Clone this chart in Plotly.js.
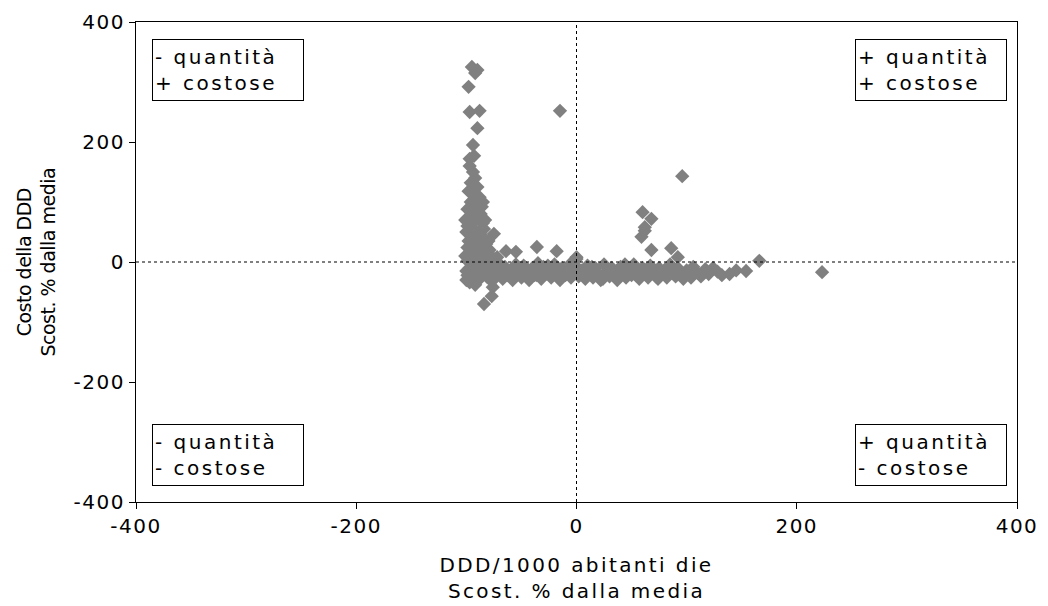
<!DOCTYPE html>
<html>
<head>
<meta charset="utf-8">
<script src="https://cdn.plot.ly/plotly-3.0.1.min.js"></script>
<style>
  html, body { margin: 0; padding: 0; background: #fff; }
  #chart { width: 1048px; height: 606px; }
  .xtick text, .ytick text { letter-spacing: 1.5px; }
  .xtitle { letter-spacing: 2.4px; }
  .annotation-text { letter-spacing: 2.5px; }
  .ytitle-ann .annotation-text { letter-spacing: -0.5px; }
</style>
</head>
<body>
<div id="chart"></div>
<script>
// Scostamento % dalla media: DDD/1000 abitanti die (x) vs costo della DDD (y)
const outlierX = [-95, -90, -92, -98, -97, -88, -90, -94, -97, -93, -75, -15, -36, -64, -55, -18, -77, -76, -84, 96, 60, 68, 62, 59, 62, 68, 86, 92, 166, 223, 0];
const outlierY = [325, 320, 315, 292, 250, 252, 223, 195, 172, 177, 47, 252, 25, 18, 17, 18, -57, -42, -70, 143, 83, 72, 58, 42, 52, 20, 23, 8, 2, -17, 8];

const columnX = [-97, -94, -92, -96, -90, -98, -93, -88, -96, -91, -86, -99, -94, -89, -97, -92, -85, -99, -94, -88, -96, -91, -84, -98, -93, -87, -99, -95, -89, -83, -97, -92, -86, -99, -94, -88, -97, -91, -85, -99, -94, -89, -97, -92, -86, -82, -81, -90, -95, -84, -87, -100, -82, -85, -78, -75, -80, -72, -100, -100, -96, -101, -83, -79, -88, -93, -101];
const columnY = [160, 150, 140, 132, 125, 118, 112, 108, 100, 95, 92, 88, 82, 78, 72, 68, 65, 60, 55, 52, 46, 42, 40, 35, 30, 28, 24, 20, 16, 14, 10, 6, 4, 2, -2, -5, -10, -14, -18, -22, -26, -30, -34, -38, -8, -12, -25, 102, 45, 55, 80, 50, 30, 100, 10, 5, 35, 8, -15, -30, -20, 70, 70, 20, 30, 88, 10];

const bandX = [-80, -80, -78, -75, -73, -70, -70, -67, -65, -63, -60, -58, -55, -55, -52, -50, -48, -45, -43, -40, -38, -35, -35, -32, -30, -28, -25, -23, -20, -18, -15, -13, -10, -8, -5, -5, -3, 0, 0, 2, 5, 8, 10, 12, 15, 17, 20, 22, 25, 27, 30, 32, 35, 37, 40, 42, 45, 47, 50, 52, 55, 57, 60, 62, 65, 67, 70, 72, 75, 77, 80, 82, 85, 87, 90, 92, 95, 97, 100, 103, 106, 110, 113, 117, 120, 124, 128, 132, 139, 145, 154, -68, -57, -46, -36, -26, -16, -6, 4, 14, 24, 34, 44, 54, 64, 74, 84, 94, 104];
const bandY = [-5, -20, -30, -10, -25, -3, -18, -28, -8, -22, -14, -30, -4, -20, -12, -26, -6, -18, -30, -10, -22, -2, -16, -28, -8, -20, -12, -26, -4, -18, -30, -10, -22, -14, -2, -26, -18, -8, 5, -24, -14, -28, -6, -18, -26, -10, -20, -30, -4, -16, -24, -10, -20, -30, -8, -18, -26, -12, -22, -4, -16, -28, -10, -20, -26, -6, -16, -24, -10, -20, -14, -26, -4, -18, -24, -10, -20, -28, -14, -22, -8, -18, -24, -12, -20, -10, -16, -22, -20, -14, -15, -12, -24, -10, -22, -6, -24, -12, -20, -8, -28, -14, -4, -22, -14, -28, -8, -16, -26];

const xTickVals = [-400, -200, 0, 200, 400];
const yTickVals = [-400, -200, 0, 200, 400];

const quadrantLabels = ['- quantità<br>+ costose', '+ quantità<br>+ costose', '- quantità<br>- costose', '+ quantità<br>- costose'];
const yTitleText = 'Costo della DDD<br>Scost. % dalla media';
const xTitleText = 'DDD/1000 abitanti die<br>Scost. % dalla media';

const xs = outlierX.concat(columnX, bandX);
const ys = outlierY.concat(columnY, bandY);

const font = 'DejaVu Sans, Verdana, sans-serif';

const trace = {
  type: 'scatter',
  mode: 'markers',
  x: xs,
  y: ys,
  marker: { symbol: 'diamond', size: 11, color: '#808080', line: { width: 0 } },
  hoverinfo: 'x+y'
};

const annBase = {
  xref: 'paper', yref: 'paper', showarrow: false, align: 'left',
  font: { family: font, size: 20, color: '#000' },
  bordercolor: '#000', borderwidth: 1, borderpad: 2, bgcolor: '#fff',
  width: 146, height: 56
};

const layout = {
  width: 1048, height: 606,
  margin: { l: 136, r: 31, t: 22, b: 104 },
  paper_bgcolor: '#fff', plot_bgcolor: '#fff',
  showlegend: false,
  font: { family: font, size: 20, color: '#000' },
  xaxis: {
    range: [-400, 400], tickvals: xTickVals, ticktext: xTickVals.map(String),
    showgrid: false, zeroline: false,
    showline: true, mirror: true, linecolor: '#000', linewidth: 1,
    ticks: 'outside', ticklen: 6, tickcolor: '#000',
    tickfont: { family: font, size: 20, color: '#000' },
    title: { text: xTitleText, font: { family: font, size: 20, color: '#000' }, standoff: 20 }
  },
  yaxis: {
    range: [-400, 400], tickvals: yTickVals, ticktext: yTickVals.map(String),
    showgrid: false, zeroline: false,
    showline: true, mirror: true, linecolor: '#000', linewidth: 1,
    ticks: 'outside', ticklen: 6, tickcolor: '#000',
    tickfont: { family: font, size: 20, color: '#000' }
  },
  shapes: [
    { type: 'line', xref: 'x', yref: 'paper', x0: 0, x1: 0, y0: 0, y1: 1, line: { color: '#000', width: 1, dash: 'dot' }, layer: 'above' },
    { type: 'line', xref: 'paper', yref: 'y', x0: 0, x1: 1, y0: 0, y1: 0, line: { color: '#000', width: 1, dash: 'dot' }, layer: 'above' }
  ],
  annotations: [
    Object.assign({}, annBase, { text: quadrantLabels[0], x: 0.018, y: 0.965, xanchor: 'left', yanchor: 'top' }),
    Object.assign({}, annBase, { text: quadrantLabels[1], x: 0.9886, y: 0.965, xanchor: 'right', yanchor: 'top' }),
    Object.assign({}, annBase, { text: quadrantLabels[2], x: 0.018, y: 0.033, xanchor: 'left', yanchor: 'bottom' }),
    Object.assign({}, annBase, { text: quadrantLabels[3], x: 0.9886, y: 0.033, xanchor: 'right', yanchor: 'bottom' }),
    { text: yTitleText, xref: 'paper', yref: 'paper', x: -0.114, y: 0.5, xanchor: 'center', yanchor: 'middle',
      textangle: -90, showarrow: false, align: 'center', font: { family: font, size: 19, color: '#000' },
      name: 'ytitle' }
  ]
};

Plotly.newPlot('chart', [trace], layout, { displayModeBar: false, staticPlot: true }).then(function () {
  const anns = document.querySelectorAll('.annotation');
  const last = anns[anns.length - 1];
  if (last) last.classList.add('ytitle-ann');
});
</script>
</body>
</html>
